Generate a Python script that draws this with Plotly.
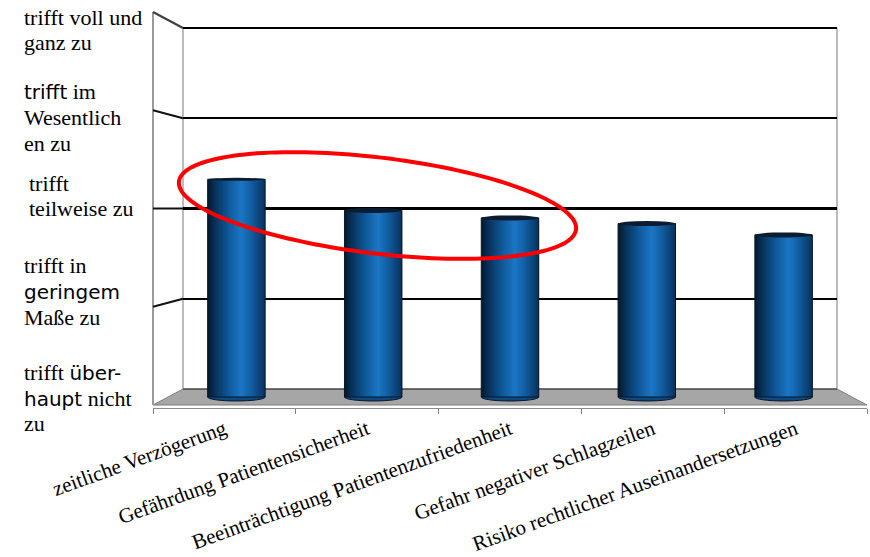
import numpy as np
import plotly.graph_objects as go

# ---------------------------------------------------------------- data
categories = [
    "zeitliche Verzögerung",
    "Gefährdung Patientensicherheit",
    "Beeinträchtigung Patientenzufriedenheit",
    "Gefahr negativer Schlagzeilen",
    "Risiko rechtlicher Auseinandersetzungen",
]
ratings = [3.31, 2.98, 2.90, 2.84, 2.72]

scale_levels = [5, 4, 3, 2, 1]
SANS = "<span style='font-family:DejaVu Sans;font-size:20px'>{}</span>"
scale_labels = [
    ["trifft voll und", "ganz zu"],
    [SANS.format("trifft") + " im", "Wesentlich", "en zu"],
    ["trifft", "teilweise zu"],
    ["trifft in", SANS.format("geringem"), "Maße zu"],
    ["trifft " + SANS.format("über-"), SANS.format("haupt") + " nicht", "zu"],
]

# ---------------------------------------------------------------- geometry (px)
W, H = 870, 557
Y_MIN, Y_MAX = 1, 5

# back wall and front edge of the pseudo-3D box
BX0, BX1, BTOP, BBOT = 183, 837, 28, 389
FX0, FX1, FTOP, FBOT = 153, 867, 12, 405
# plane in which the cylinders stand (half depth)
MX0, MX1, MBOT = 168, 852, 397
M_SCALE = 94.25  # px per scale step in the bar plane

B_SCALE = (BBOT - BTOP) / (Y_MAX - Y_MIN)
F_SCALE = (FBOT - FTOP) / (Y_MAX - Y_MIN)


def px(x):
    return x / W


def py(y):
    return 1 - y / H


def back_y(v):
    return BBOT - (v - Y_MIN) * B_SCALE


def front_y(v):
    return FBOT - (v - Y_MIN) * F_SCALE


fig = go.Figure()

# ---------------------------------------------------------------- cylinders
BAR_W = 0.42
N_SLICES = 30
stops = [0.0, 0.12, 0.35, 0.58, 0.72, 0.88, 1.0]
stop_cols = np.array([
    [4, 24, 44],
    [8, 48, 86],
    [14, 86, 150],
    [28, 118, 196],
    [20, 100, 170],
    [12, 72, 128],
    [8, 50, 92],
], dtype=float)

xs = list(range(len(categories)))
heights = [r - Y_MIN for r in ratings]
step = BAR_W / N_SLICES
for j in range(N_SLICES):
    t = (j + 0.5) / N_SLICES
    rgb = [np.interp(t, stops, stop_cols[:, c]) for c in range(3)]
    col = "rgb({:.0f},{:.0f},{:.0f})".format(*rgb)
    wj = min(2 * step, BAR_W - j * step)
    fig.add_trace(go.Bar(
        x=xs, y=heights, base=Y_MIN,
        width=wj, offset=-BAR_W / 2 + j * step,
        marker=dict(color=col, line=dict(width=0)),
        xaxis="x2", yaxis="y2", showlegend=False,
        hoverinfo="skip",
    ))
# outline of each cylinder
fig.add_trace(go.Bar(
    x=xs, y=heights, base=Y_MIN, width=BAR_W, offset=-BAR_W / 2,
    marker=dict(color="rgba(0,0,0,0)", line=dict(color="#0a1626", width=1)),
    xaxis="x2", yaxis="y2", showlegend=False,
    customdata=ratings, hovertemplate="%{customdata:.2f}<extra></extra>",
))

# empty traces so the wall grid and the front axis get their subplots
fig.add_trace(go.Scatter(x=[], y=[], xaxis="x", yaxis="y", showlegend=False))
fig.add_trace(go.Scatter(x=[], y=[], xaxis="x3", yaxis="y3", showlegend=False))

shapes = []

# floor
floor_path = "M {} {} L {} {} L {} {} L {} {} Z".format(
    px(BX0), py(BBOT), px(BX1), py(BBOT), px(FX1), py(FBOT), px(FX0), py(FBOT))
shapes.append(dict(type="path", xref="paper", yref="paper", path=floor_path,
                   fillcolor="#a6a6a6", line=dict(color="#7f7f7f", width=1),
                   layer="below"))
# wall edges and back edge of the floor
for (x0, y0, x1, y1, c, w) in [
    (FX0, FTOP, FX0, FBOT, "#9a9a9a", 2),
    (BX0, BTOP, BX0, BBOT, "#a6a6a6", 1.5),
    (BX1, BTOP, BX1, BBOT, "#a6a6a6", 1.5),
    (BX0, BBOT, BX1, BBOT, "#262626", 1),
]:
    shapes.append(dict(type="line", xref="paper", yref="paper",
                       x0=px(x0), y0=py(y0), x1=px(x1), y1=py(y1),
                       line=dict(color=c, width=w), layer="below"))
# grid lines running across the left wall
for v in [2, 3, 4, 5]:
    shapes.append(dict(type="line", xref="paper", yref="paper",
                       x0=px(FX0), y0=py(front_y(v)), x1=px(BX0), y1=py(back_y(v)),
                       line=dict(color="#404040" if v == 5 else "#111111", width=2),
                       layer="below"))
# emphasised middle grid line on the back wall
shapes.append(dict(type="line", xref="x", yref="y", x0=0, x1=1, y0=3, y1=3,
                   line=dict(color="black", width=3), layer="below"))

# rounded bottoms and dark tops of the cylinders
px_to_v = 1 / M_SCALE
for i, r in enumerate(ratings):
    shapes.append(dict(type="circle", xref="x2", yref="y2",
                       x0=i - BAR_W / 2, x1=i + BAR_W / 2,
                       y0=Y_MIN - 4 * px_to_v, y1=Y_MIN + 4 * px_to_v,
                       fillcolor="#0d4a82", line=dict(color="#0a1626", width=1),
                       layer="below"))
    hh = 1.5 if r > 3 else 2.5
    shapes.append(dict(type="circle", xref="x2", yref="y2",
                       x0=i - BAR_W / 2, x1=i + BAR_W / 2,
                       y0=r - hh * px_to_v, y1=r + hh * px_to_v,
                       fillcolor="#0b1c30", line=dict(width=0), layer="above"))

# red highlight ellipse
cx, cy, a, b, th = 377.5, 205.5, 200, 48, np.deg2rad(6.9)
tt = np.linspace(0, 2 * np.pi, 160)
ex = cx + a * np.cos(tt) * np.cos(th) - b * np.sin(tt) * np.sin(th)
ey = cy + a * np.cos(tt) * np.sin(th) + b * np.sin(tt) * np.cos(th)
epath = "M " + " L ".join("{:.5f} {:.5f}".format(px(X), py(Y)) for X, Y in zip(ex, ey)) + " Z"
shapes.append(dict(type="path", xref="paper", yref="paper", path=epath,
                   line=dict(color="#ff0000", width=4), layer="above"))

# ---------------------------------------------------------------- scale labels
LINE_PITCH = 25.8
label_center_px = [30, 117.5, 196, 291.5, 398]
label_x_px = [22, 22, 27, 22, 22]
annotations = []
for lines, cyp, lx in zip(scale_labels, label_center_px, label_x_px):
    n = len(lines)
    for k, line in enumerate(lines):
        yk = cyp + (k - (n - 1) / 2) * LINE_PITCH
        annotations.append(dict(
            x=px(lx), xref="paper", xanchor="left", align="left",
            y=py(yk), yref="paper", yanchor="middle",
            text=line, showarrow=False,
            font=dict(family="Liberation Serif", size=22, color="black"),
        ))

# ---------------------------------------------------------------- axes
PAD = 0.05
w_bot_px = BBOT + PAD * B_SCALE
w_top_px = BTOP - PAD * B_SCALE
m_lo, m_hi = Y_MIN - 0.1, Y_MAX + 0.1
m_bot_px = MBOT + (Y_MIN - m_lo) * M_SCALE
m_top_px = MBOT - (m_hi - Y_MIN) * M_SCALE

fig.update_layout(
    width=W, height=H,
    margin=dict(l=0, r=0, t=0, b=0, autoexpand=False),
    paper_bgcolor="white",
    plot_bgcolor="rgba(0,0,0,0)",
    barmode="overlay",
    showlegend=False,
    shapes=shapes,
    annotations=annotations,
    # back wall
    xaxis=dict(domain=[px(BX0), px(BX1)], range=[0, 1], visible=False, anchor="y",
               automargin=False),
    yaxis=dict(domain=[py(w_bot_px), py(w_top_px)],
               range=[Y_MIN - PAD, Y_MAX + PAD], anchor="x", automargin=False,
               tickvals=[2, 3, 4, 5], showticklabels=False, ticks="",
               showgrid=True, gridcolor="black", gridwidth=2,
               zeroline=False, showline=False),
    # bar plane
    xaxis2=dict(domain=[px(MX0), px(MX1)], range=[-0.5, len(categories) - 0.5],
                visible=False, anchor="y2", automargin=False),
    yaxis2=dict(domain=[py(m_bot_px), py(m_top_px)], range=[m_lo, m_hi],
                visible=False, anchor="x2", automargin=False),
    # front category axis
    xaxis3=dict(domain=[px(FX0), px(FX1)], range=[-0.5, len(categories) - 0.5],
                anchor="free", position=py(FBOT + 3), automargin=False,
                showline=True, linecolor="#8c8c8c", linewidth=1,
                showgrid=False, zeroline=False,
                tickmode="array", tickvals=xs, ticktext=categories, ticks="",
                tickangle=-20,
                tickfont=dict(family="Liberation Serif", size=21, color="black"),
                minor=dict(tickmode="array",
                           tickvals=[k - 0.5 for k in range(len(categories) + 1)],
                           ticks="outside", ticklen=5, tickcolor="#7f7f7f",
                           showgrid=False)),
    yaxis3=dict(domain=[py(FBOT + 3), py(FTOP)], range=[Y_MIN, Y_MAX],
                anchor="x3", visible=False, showgrid=False, automargin=False),
)

fig.write_html("out.html")
